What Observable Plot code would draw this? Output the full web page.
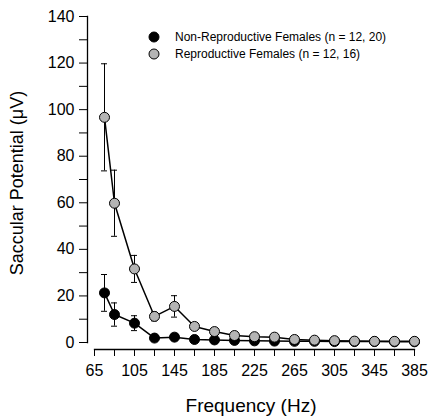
<!DOCTYPE html>
<html>
<head>
<meta charset="utf-8">
<script src="https://cdn.jsdelivr.net/npm/d3@7"></script>
<script src="https://cdn.jsdelivr.net/npm/@observablehq/plot@0.6"></script>
<style>
  body { margin: 0; background: #fff; font-family: "Liberation Sans", Arial, sans-serif; }
  #wrap { position: relative; width: 429px; height: 420px; }
  #legend { position: absolute; left: 148px; top: 28px; font-size: 12px; color: #000; }
  .row { display: flex; align-items: center; height: 17px; }
  .row svg { margin-right: 15px; }
</style>
</head>
<body>
<div id="wrap"><div id="legend"></div></div>
<script>
const frequencies = [75, 85, 105, 125, 145, 165, 185, 205, 225, 245, 265, 285, 305, 325, 345, 365, 385];
const nonRepMean = [21.3, 12.0, 8.3, 1.9, 2.3, 1.3, 1.1, 0.9, 0.7, 0.6, 0.5, 0.5, 0.4, 0.4, 0.4, 0.3, 0.3];
const nonRepSE   = [7.9, 5.0, 3.2, 0.4, 0.4, 0.3, 0.2, 0.2, 0.2, 0.1, 0.1, 0.1, 0.1, 0.1, 0.1, 0.1, 0.1];
const repMean    = [96.7, 59.8, 31.6, 11.2, 15.5, 6.9, 4.7, 3.0, 2.5, 2.3, 1.3, 1.0, 0.8, 0.6, 0.5, 0.5, 0.5];
const repSE      = [23.0, 14.2, 5.8, 1.9, 4.6, 1.0, 0.8, 0.6, 0.5, 0.4, 0.3, 0.2, 0.2, 0.2, 0.1, 0.1, 0.1];
const seriesNames = ["Non-Reproductive Females (n = 12, 20)", "Reproductive Females (n = 12, 16)"];
const seriesFills = ["#000000", "#b4b4b4"];
const xTickLabels = [65, 105, 145, 185, 225, 265, 305, 345, 385];
const xMinorTicks = [85, 125, 165, 205, 245, 285, 325, 365];
const yTickLabels = [0, 20, 40, 60, 80, 100, 120, 140];
const yMinorTicks = [10, 30, 50, 70, 90, 110, 130];
const xLabel = "Frequency (Hz)";
const yLabel = "Saccular Potential (μV)";

const rows = (mean, se) => frequencies.map((f, i) => ({f, v: mean[i], lo: mean[i] - se[i], hi: mean[i] + se[i]}));
const series = [rows(nonRepMean, nonRepSE), rows(repMean, repSE)];
const cap = 3;

const seriesMarks = (data, fill) => [
  Plot.ruleX(data, {x: "f", y1: "lo", y2: "hi", stroke: "#000", strokeWidth: 1}),
  Plot.ruleY(data, {y: "hi", x1: d => d.f - cap, x2: d => d.f + cap, stroke: "#000", strokeWidth: 1}),
  Plot.ruleY(data, {y: "lo", x1: d => d.f - cap, x2: d => d.f + cap, stroke: "#000", strokeWidth: 1}),
  Plot.line(data, {x: "f", y: "v", stroke: "#000", strokeWidth: 1.5}),
  Plot.dot(data, {x: "f", y: "v", r: 5, fill, stroke: "#000", strokeWidth: 1})
];

const chart = Plot.plot({
  width: 429,
  height: 420,
  marginLeft: 87,
  marginRight: 15,
  marginTop: 16,
  marginBottom: 71,
  x: {domain: [65, 385], range: [94, 414]},
  y: {domain: [0, 140], range: [342, 16]},
  style: {fontFamily: "'Liberation Sans', Arial, sans-serif", fontSize: "16px", color: "#000", background: "#fff", overflow: "visible"},
  marks: [
    Plot.frame({anchor: "left", insetBottom: 7, strokeWidth: 1.3}),
    Plot.frame({anchor: "bottom", insetLeft: 7, strokeWidth: 1.3}),
    Plot.axisY(yTickLabels, {tickSize: 8, tickPadding: 5, label: null, fontSize: 16}),
    Plot.axisY(yMinorTicks, {tickSize: 8, tickFormat: () => "", label: null}),
    Plot.axisX(xTickLabels, {tickSize: 7, tickPadding: 8, label: null, fontSize: 16}),
    Plot.axisX(xMinorTicks, {tickSize: 7, tickFormat: () => "", label: null}),
    Plot.axisX([], {label: xLabel, labelAnchor: "center", labelOffset: 62, labelArrow: false, fontSize: 19, tickSize: 0}),
    Plot.axisY([], {label: yLabel, labelAnchor: "center", labelOffset: 77, labelArrow: false, fontSize: 18, tickSize: 0}),
    ...seriesMarks(series[0], seriesFills[0]),
    ...seriesMarks(series[1], seriesFills[1])
  ]
});
const wrap = document.getElementById("wrap");
wrap.insertBefore(chart, wrap.firstChild);

const legend = d3.select("#legend");
seriesNames.forEach((name, i) => {
  const row = legend.append("div").attr("class", "row");
  const svg = row.append("svg").attr("width", 12).attr("height", 12);
  svg.append("circle").attr("cx", 6).attr("cy", 6).attr("r", 5).attr("fill", seriesFills[i]).attr("stroke", "#000");
  row.append("span").text(name);
});
</script>
</body>
</html>
